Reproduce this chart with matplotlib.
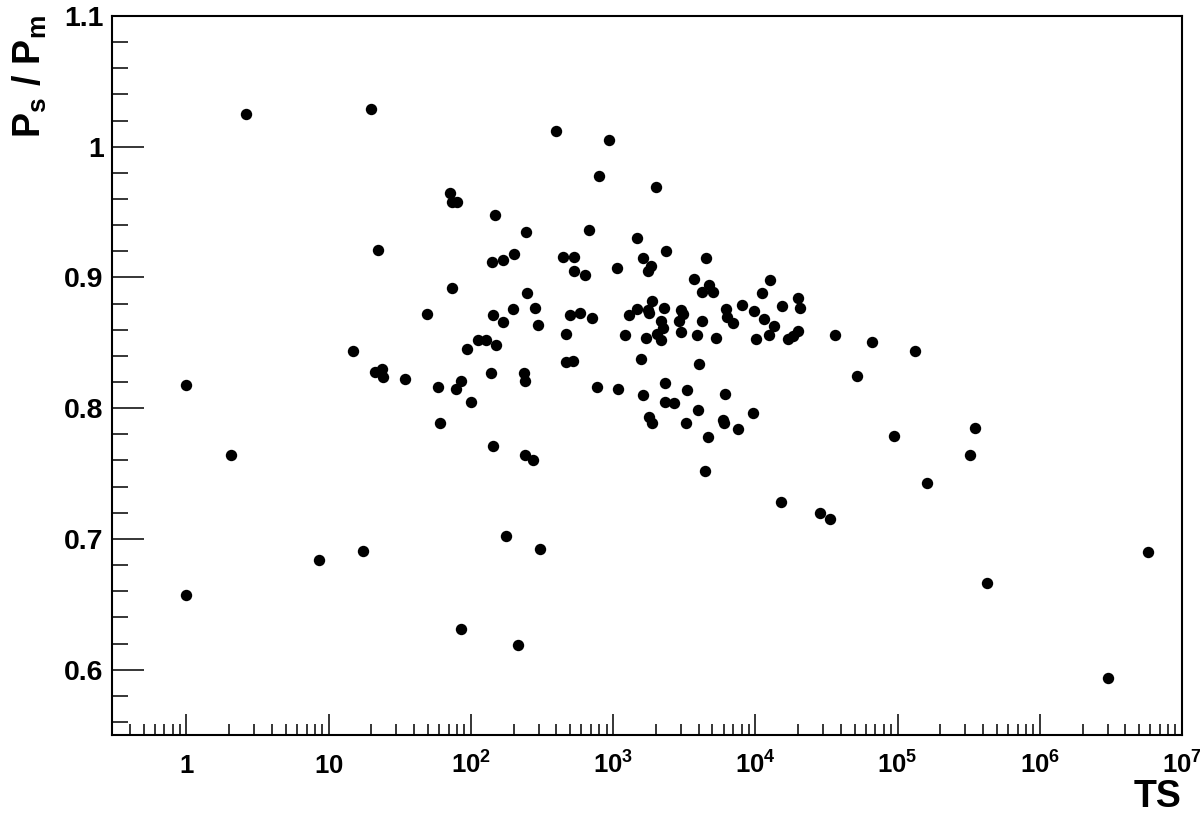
import numpy as np
import matplotlib
matplotlib.use("Agg")
import matplotlib.pyplot as plt
from matplotlib.ticker import FixedLocator, FuncFormatter

plt.rcParams['font.family'] = ['Liberation Sans', 'DejaVu Sans']
plt.rcParams['font.weight'] = 'bold'
plt.rcParams['mathtext.fontset'] = 'custom'
plt.rcParams['mathtext.rm'] = 'Liberation Sans:bold'
plt.rcParams['mathtext.bf'] = 'Liberation Sans:bold'
plt.rcParams['mathtext.it'] = 'Liberation Sans:bold'

# TS values and P_s / P_m ratio
ts = [1.0, 1.0, 2.63, 2.05, 8.59, 17.6, 19.9, 22.2, 14.8, 21.3, 23.6, 24.1, 34.6, 49.4,
      59.0, 60.3, 78.6, 84.8, 100.6, 93.9, 111.6, 127.1, 149.4, 137.8, 142.3, 143.7, 169,
      198.7, 282.4, 297.9, 236.3, 238.9, 238.9, 274.7, 466.5, 466.5, 519.8, 495.3, 585.2,
      710.5, 766.6, 85.6, 213.4, 177.4, 304.7,
      394.8, 940.4, 799.8, 2003, 71.3, 73.3, 80.2, 147, 242.9, 676.9, 1473, 442.2, 528.4,
      141.4, 169, 200, 1631, 1839, 1768, 2344, 4501, 1060, 530.9, 637.6, 73.3, 3688, 12690,
      4725, 4198, 5017, 11145, 248,
      1868, 1473, 1300, 1768, 1782, 2280, 2161, 2254, 2046, 2183, 1207, 1696, 2988, 3086,
      2907, 2988, 3871, 4219, 5291, 6221, 6324, 6969, 8101, 9743, 11460, 13540, 12420,
      10160, 15410, 19870, 20630, 20070, 18510, 16900, 36350, 65850, 132800, 51490, 93730,
      350800, 325000, 160500, 15160, 28510, 33680, 428000, 5776000, 3022000,
      4451, 1564, 4019, 1077, 1615, 2329, 3325, 6091, 2329, 2681, 3974, 9633, 1797, 1868,
      3240, 5957, 6053, 7555, 4672]

ratio = [0.818, 0.657, 1.025, 0.764, 0.684, 0.691, 1.029, 0.921, 0.844, 0.828, 0.830, 0.824,
         0.822, 0.872, 0.816, 0.789, 0.815, 0.821, 0.805, 0.845, 0.852, 0.852, 0.848, 0.827,
         0.771, 0.871, 0.866, 0.876, 0.877, 0.864, 0.827, 0.821, 0.764, 0.760, 0.857, 0.835,
         0.836, 0.871, 0.873, 0.869, 0.816, 0.631, 0.619, 0.702, 0.692,
         1.012, 1.005, 0.978, 0.969, 0.965, 0.958, 0.958, 0.948, 0.935, 0.936, 0.930, 0.916,
         0.916, 0.912, 0.913, 0.918, 0.915, 0.909, 0.905, 0.920, 0.915, 0.907, 0.905, 0.902,
         0.892, 0.899, 0.898, 0.894, 0.889, 0.889, 0.888, 0.888,
         0.882, 0.876, 0.871, 0.875, 0.873, 0.877, 0.867, 0.861, 0.857, 0.852, 0.856, 0.854,
         0.875, 0.872, 0.867, 0.858, 0.856, 0.867, 0.854, 0.876, 0.870, 0.865, 0.879, 0.874,
         0.868, 0.863, 0.856, 0.853, 0.878, 0.884, 0.877, 0.859, 0.855, 0.853, 0.856, 0.851,
         0.844, 0.825, 0.779, 0.785, 0.764, 0.743, 0.728, 0.720, 0.715, 0.666, 0.690, 0.594,
         0.752, 0.838, 0.834, 0.815, 0.810, 0.819, 0.814, 0.811, 0.805, 0.804, 0.799, 0.796,
         0.793, 0.789, 0.789, 0.791, 0.789, 0.784, 0.778]

x_major = [1, 10, 1e2, 1e3, 1e4, 1e5, 1e6, 1e7]
x_labels = ['1', '10', '10^{2}', '10^{3}', '10^{4}', '10^{5}', '10^{6}', '10^{7}']
y_major = [0.6, 0.7, 0.8, 0.9, 1.0, 1.1]

fig = plt.figure(figsize=(12, 8.13), dpi=100)
ax = fig.add_axes([0.0933, 0.0959, 0.8917, 0.8844])

ax.plot(ts, ratio, 'o', color='black', ms=8.2, mew=0)

ax.set_xscale('log')
ax.set_xlim(0.3, 1e7)
ax.set_ylim(0.55, 1.1)

# x ticks
minors = [m * 10.0 ** e for e in range(-1, 7) for m in range(2, 10)]
minors = [v for v in minors if 0.3 <= v <= 1e7]
ax.xaxis.set_major_locator(FixedLocator(x_major))
ax.xaxis.set_minor_locator(FixedLocator(minors))
ax.set_xticklabels(['$\\mathbf{%s}$' % s for s in x_labels])
ax.xaxis.set_minor_formatter(FuncFormatter(lambda v, p: ''))

# y ticks
ax.yaxis.set_major_locator(FixedLocator(y_major))
ax.yaxis.set_minor_locator(FixedLocator(np.arange(0.56, 1.1, 0.02)))
ax.yaxis.set_major_formatter(FuncFormatter(lambda v, p: '%g' % round(v, 2)))

ax.tick_params(axis='both', which='both', direction='in', top=False, right=False)
ax.tick_params(axis='x', which='major', length=15, width=1.1, labelsize=18.5, pad=27.5)
ax.tick_params(axis='x', which='minor', length=8, width=1.1)
ax.tick_params(axis='y', which='major', length=23, width=1.1, labelsize=20.5, pad=6)
ax.tick_params(axis='y', which='minor', length=11.5, width=1.1)
for lbl in ax.get_xticklabels():
    lbl.set_va('baseline')

for s in ax.spines.values():
    s.set_linewidth(1.5)

fig.text(0.025, 0.981, r'$\mathbf{P_{s}\ /\ P_{m}}$', rotation=90, ha='center', va='top',
         fontsize=27)
fig.text(0.985, 0.007, 'TS', ha='right', va='baseline', fontsize=27, fontweight='bold')

fig.savefig('out.png', dpi=100)
